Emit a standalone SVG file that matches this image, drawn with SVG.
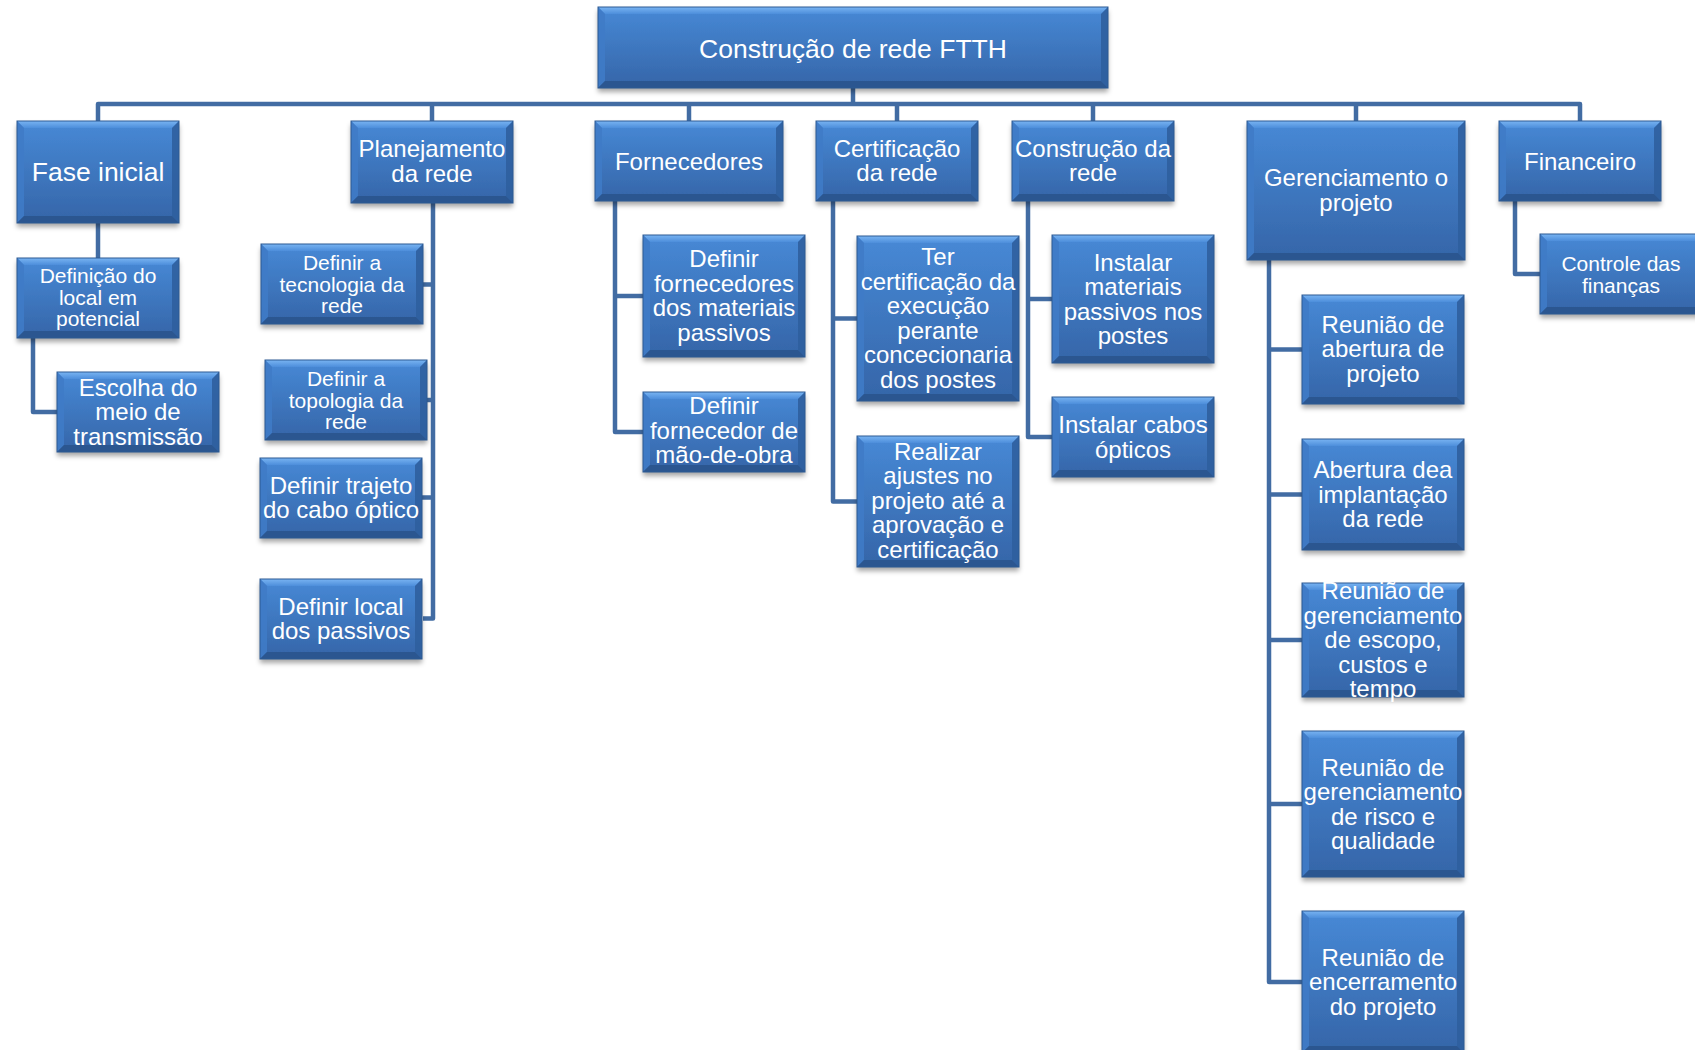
<svg xmlns="http://www.w3.org/2000/svg" xmlns:xlink="http://www.w3.org/1999/xlink" width="1695" height="1050" viewBox="0 0 1695 1050">
<style>
.body{fill:url(#gBody);filter:url(#sh)}
.bt{fill:url(#gTop)}
.bl{fill:#3f7bc6;opacity:.9}
.br{fill:#2f5f9e;opacity:.9}
.bb{fill:#2b5690}
.edge{fill:none;stroke:#2d5a93;stroke-width:1}
text{font-family:"Liberation Sans",Arial,sans-serif;fill:#fff;text-anchor:middle}
.t24{font-size:24px}
.t21{font-size:21px}
.conn path{fill:none;stroke:#426ca3;stroke-width:4.5;stroke-linejoin:round;stroke-linecap:butt}
</style>
<defs>
<linearGradient id="gBody" x1="0" y1="0" x2="0" y2="1">
<stop offset="0" stop-color="#4789d6"/>
<stop offset="1" stop-color="#3565a8"/>
</linearGradient>
<linearGradient id="gTop" x1="0" y1="0" x2="0" y2="1">
<stop offset="0" stop-color="#79b4f2"/>
<stop offset="1" stop-color="#4d8edb"/>
</linearGradient>
<filter id="sh" x="-10%" y="-10%" width="120%" height="130%">
<feDropShadow dx="0" dy="4" stdDeviation="2.5" flood-color="#000" flood-opacity="0.35"/>
</filter>
<g id="b80">
<rect class="body" x="0" y="0" width="162" height="80"/>
<polygon class="bt" points="0,0 162,0 155,7 7,7"/>
<polygon class="bl" points="0,0 7,7 7,73 0,80"/>
<polygon class="br" points="162,0 162,80 155,73 155,7"/>
<polygon class="bb" points="0,80 7,73 155,73 162,80"/>
<rect class="edge" x="0" y="0" width="162" height="80"/>
</g>
</defs>
<rect width="1695" height="1050" fill="#fff"/>

<g id="connectors" class="conn">
<path d="M853,88 V104"/>
<path d="M98,121 V104 H1580 V121"/>
<path d="M432,104 V121"/>
<path d="M689,104 V121"/>
<path d="M897,104 V121"/>
<path d="M1093,104 V121"/>
<path d="M1356,104 V121"/>
<path d="M98,223 V258"/>
<path d="M33,338 V412 H57"/>
<path d="M433,203 V618.5 H423"/>
<path d="M433,284.5 H423"/>
<path d="M433,400 H427"/>
<path d="M433,497.5 H422"/>
<path d="M615,201 V432 H643"/>
<path d="M615,296 H643"/>
<path d="M833,201 V501.5 H857"/>
<path d="M833,318.5 H857"/>
<path d="M1028,201 V437 H1052"/>
<path d="M1028,299 H1052"/>
<path d="M1269,260 V982 H1302"/>
<path d="M1269,349.5 H1302"/>
<path d="M1269,494.5 H1302"/>
<path d="M1269,640 H1302"/>
<path d="M1269,804 H1302"/>
<path d="M1515,201 V274 H1540"/>
</g>

<g id="root" transform="translate(598,7)">
<rect class="body" x="0" y="0" width="510" height="81"/>
<polygon class="bt" points="0,0 510,0 503,7 7,7"/>
<polygon class="bl" points="0,0 7,7 7,74 0,81"/>
<polygon class="br" points="510,0 510,81 503,74 503,7"/>
<polygon class="bb" points="0,81 7,74 503,74 510,81"/>
<rect class="edge" x="0" y="0" width="510" height="81"/>
<text x="255" y="51" style="font-size:26.5px">Construção de rede FTTH</text>
</g>

<g id="n1" transform="translate(17,121)">
<rect class="body" x="0" y="0" width="162" height="102"/>
<polygon class="bt" points="0,0 162,0 155,7 7,7"/>
<polygon class="bl" points="0,0 7,7 7,95 0,102"/>
<polygon class="br" points="162,0 162,102 155,95 155,7"/>
<polygon class="bb" points="0,102 7,95 155,95 162,102"/>
<rect class="edge" x="0" y="0" width="162" height="102"/>
<text x="81" y="60" style="font-size:26.5px">Fase inicial</text>
</g>

<g id="n1a" transform="translate(17,258)">
<use xlink:href="#b80"/>
<text class="t21"><tspan x="81" y="25">Definição do</tspan><tspan x="81" y="46.5">local em</tspan><tspan x="81" y="68">potencial</tspan></text>
</g>

<g id="n1b" transform="translate(57,372)">
<use xlink:href="#b80"/>
<text class="t24"><tspan x="81" y="23.5">Escolha do</tspan><tspan x="81" y="48">meio de</tspan><tspan x="81" y="72.5">transmissão</tspan></text>
</g>

<g id="n2" transform="translate(351,121)">
<rect class="body" x="0" y="0" width="162" height="82"/>
<polygon class="bt" points="0,0 162,0 155,7 7,7"/>
<polygon class="bl" points="0,0 7,7 7,75 0,82"/>
<polygon class="br" points="162,0 162,82 155,75 155,7"/>
<polygon class="bb" points="0,82 7,75 155,75 162,82"/>
<rect class="edge" x="0" y="0" width="162" height="82"/>
<text class="t24"><tspan x="81" y="36">Planejamento</tspan><tspan x="81" y="60.5">da rede</tspan></text>
</g>

<g id="n2a" transform="translate(261,244)">
<use xlink:href="#b80"/>
<text class="t21"><tspan x="81" y="26">Definir a</tspan><tspan x="81" y="47.7">tecnologia da</tspan><tspan x="81" y="69.3">rede</tspan></text>
</g>

<g id="n2b" transform="translate(265,360)">
<use xlink:href="#b80"/>
<text class="t21"><tspan x="81" y="25.8">Definir a</tspan><tspan x="81" y="47.5">topologia da</tspan><tspan x="81" y="69.2">rede</tspan></text>
</g>

<g id="n2c" transform="translate(260,458)">
<use xlink:href="#b80"/>
<text class="t24"><tspan x="81" y="35.6">Definir trajeto</tspan><tspan x="81" y="60">do cabo óptico</tspan></text>
</g>

<g id="n2d" transform="translate(260,579)">
<use xlink:href="#b80"/>
<text class="t24"><tspan x="81" y="35.6">Definir local</tspan><tspan x="81" y="60">dos passivos</tspan></text>
</g>

<g id="n3" transform="translate(595,121)">
<rect class="body" x="0" y="0" width="188" height="80"/>
<polygon class="bt" points="0,0 188,0 181,7 7,7"/>
<polygon class="bl" points="0,0 7,7 7,73 0,80"/>
<polygon class="br" points="188,0 188,80 181,73 181,7"/>
<polygon class="bb" points="0,80 7,73 181,73 188,80"/>
<rect class="edge" x="0" y="0" width="188" height="80"/>
<text class="t24" x="94" y="48.5">Fornecedores</text>
</g>

<g id="n3a" transform="translate(643,235)">
<rect class="body" x="0" y="0" width="162" height="122"/>
<polygon class="bt" points="0,0 162,0 155,7 7,7"/>
<polygon class="bl" points="0,0 7,7 7,115 0,122"/>
<polygon class="br" points="162,0 162,122 155,115 155,7"/>
<polygon class="bb" points="0,122 7,115 155,115 162,122"/>
<rect class="edge" x="0" y="0" width="162" height="122"/>
<text class="t24"><tspan x="81" y="32">Definir</tspan><tspan x="81" y="56.5">fornecedores</tspan><tspan x="81" y="81">dos materiais</tspan><tspan x="81" y="105.5">passivos</tspan></text>
</g>

<g id="n3b" transform="translate(643,392)">
<use xlink:href="#b80"/>
<text class="t24"><tspan x="81" y="22">Definir</tspan><tspan x="81" y="46.5">fornecedor de</tspan><tspan x="81" y="71">mão-de-obra</tspan></text>
</g>

<g id="n4" transform="translate(816,121)">
<use xlink:href="#b80"/>
<text class="t24"><tspan x="81" y="35.5">Certificação</tspan><tspan x="81" y="60">da rede</tspan></text>
</g>

<g id="n4a" transform="translate(857,236)">
<rect class="body" x="0" y="0" width="162" height="165"/>
<polygon class="bt" points="0,0 162,0 155,7 7,7"/>
<polygon class="bl" points="0,0 7,7 7,158 0,165"/>
<polygon class="br" points="162,0 162,165 155,158 155,7"/>
<polygon class="bb" points="0,165 7,158 155,158 162,165"/>
<rect class="edge" x="0" y="0" width="162" height="165"/>
<text class="t24"><tspan x="81" y="29">Ter</tspan><tspan x="81" y="53.5">certificação da</tspan><tspan x="81" y="78">execução</tspan><tspan x="81" y="102.5">perante</tspan><tspan x="81" y="127">concecionaria</tspan><tspan x="81" y="151.5">dos postes</tspan></text>
</g>

<g id="n4b" transform="translate(857,436)">
<rect class="body" x="0" y="0" width="162" height="131"/>
<polygon class="bt" points="0,0 162,0 155,7 7,7"/>
<polygon class="bl" points="0,0 7,7 7,124 0,131"/>
<polygon class="br" points="162,0 162,131 155,124 155,7"/>
<polygon class="bb" points="0,131 7,124 155,124 162,131"/>
<rect class="edge" x="0" y="0" width="162" height="131"/>
<text class="t24"><tspan x="81" y="23.5">Realizar</tspan><tspan x="81" y="48">ajustes no</tspan><tspan x="81" y="72.5">projeto até a</tspan><tspan x="81" y="97">aprovação e</tspan><tspan x="81" y="121.5">certificação</tspan></text>
</g>

<g id="n5" transform="translate(1012,121)">
<use xlink:href="#b80"/>
<text class="t24"><tspan x="81" y="35.5">Construção da</tspan><tspan x="81" y="60">rede</tspan></text>
</g>

<g id="n5a" transform="translate(1052,235)">
<rect class="body" x="0" y="0" width="162" height="128"/>
<polygon class="bt" points="0,0 162,0 155,7 7,7"/>
<polygon class="bl" points="0,0 7,7 7,121 0,128"/>
<polygon class="br" points="162,0 162,128 155,121 155,7"/>
<polygon class="bb" points="0,128 7,121 155,121 162,128"/>
<rect class="edge" x="0" y="0" width="162" height="128"/>
<text class="t24"><tspan x="81" y="35.5">Instalar</tspan><tspan x="81" y="60">materiais</tspan><tspan x="81" y="84.5">passivos nos</tspan><tspan x="81" y="109">postes</tspan></text>
</g>

<g id="n5b" transform="translate(1052,397)">
<use xlink:href="#b80"/>
<text class="t24"><tspan x="81" y="36">Instalar cabos</tspan><tspan x="81" y="60.5">ópticos</tspan></text>
</g>

<g id="n6" transform="translate(1247,121)">
<rect class="body" x="0" y="0" width="218" height="139"/>
<polygon class="bt" points="0,0 218,0 211,7 7,7"/>
<polygon class="bl" points="0,0 7,7 7,132 0,139"/>
<polygon class="br" points="218,0 218,139 211,132 211,7"/>
<polygon class="bb" points="0,139 7,132 211,132 218,139"/>
<rect class="edge" x="0" y="0" width="218" height="139"/>
<text class="t24"><tspan x="109" y="65">Gerenciamento o</tspan><tspan x="109" y="89.5">projeto</tspan></text>
</g>

<g id="n6a" transform="translate(1302,295)">
<rect class="body" x="0" y="0" width="162" height="109"/>
<polygon class="bt" points="0,0 162,0 155,7 7,7"/>
<polygon class="bl" points="0,0 7,7 7,102 0,109"/>
<polygon class="br" points="162,0 162,109 155,102 155,7"/>
<polygon class="bb" points="0,109 7,102 155,102 162,109"/>
<rect class="edge" x="0" y="0" width="162" height="109"/>
<text class="t24"><tspan x="81" y="37.5">Reunião de</tspan><tspan x="81" y="62">abertura de</tspan><tspan x="81" y="86.5">projeto</tspan></text>
</g>

<g id="n6b" transform="translate(1302,439)">
<rect class="body" x="0" y="0" width="162" height="111"/>
<polygon class="bt" points="0,0 162,0 155,7 7,7"/>
<polygon class="bl" points="0,0 7,7 7,104 0,111"/>
<polygon class="br" points="162,0 162,111 155,104 155,7"/>
<polygon class="bb" points="0,111 7,104 155,104 162,111"/>
<rect class="edge" x="0" y="0" width="162" height="111"/>
<text class="t24"><tspan x="81" y="39">Abertura dea</tspan><tspan x="81" y="63.5">implantação</tspan><tspan x="81" y="88">da rede</tspan></text>
</g>

<g id="n6c" transform="translate(1302,583)">
<rect class="body" x="0" y="0" width="162" height="114"/>
<polygon class="bt" points="0,0 162,0 155,7 7,7"/>
<polygon class="bl" points="0,0 7,7 7,107 0,114"/>
<polygon class="br" points="162,0 162,114 155,107 155,7"/>
<polygon class="bb" points="0,114 7,107 155,107 162,114"/>
<rect class="edge" x="0" y="0" width="162" height="114"/>
<text class="t24"><tspan x="81" y="16">Reunião de</tspan><tspan x="81" y="40.5">gerenciamento</tspan><tspan x="81" y="65">de escopo,</tspan><tspan x="81" y="89.5">custos e</tspan><tspan x="81" y="114">tempo</tspan></text>
</g>

<g id="n6d" transform="translate(1302,731)">
<rect class="body" x="0" y="0" width="162" height="146"/>
<polygon class="bt" points="0,0 162,0 155,7 7,7"/>
<polygon class="bl" points="0,0 7,7 7,139 0,146"/>
<polygon class="br" points="162,0 162,146 155,139 155,7"/>
<polygon class="bb" points="0,146 7,139 155,139 162,146"/>
<rect class="edge" x="0" y="0" width="162" height="146"/>
<text class="t24"><tspan x="81" y="44.5">Reunião de</tspan><tspan x="81" y="69">gerenciamento</tspan><tspan x="81" y="93.5">de risco e</tspan><tspan x="81" y="118">qualidade</tspan></text>
</g>

<g id="n6e" transform="translate(1302,911)">
<rect class="body" x="0" y="0" width="162" height="142"/>
<polygon class="bt" points="0,0 162,0 155,7 7,7"/>
<polygon class="bl" points="0,0 7,7 7,135 0,142"/>
<polygon class="br" points="162,0 162,142 155,135 155,7"/>
<polygon class="bb" points="0,142 7,135 155,135 162,142"/>
<rect class="edge" x="0" y="0" width="162" height="142"/>
<text class="t24"><tspan x="81" y="54.5">Reunião de</tspan><tspan x="81" y="79">encerramento</tspan><tspan x="81" y="103.5">do projeto</tspan></text>
</g>

<g id="n7" transform="translate(1499,121)">
<use xlink:href="#b80"/>
<text class="t24" x="81" y="48.5">Financeiro</text>
</g>

<g id="n7a" transform="translate(1540,234)">
<use xlink:href="#b80"/>
<text class="t21"><tspan x="81" y="37">Controle das</tspan><tspan x="81" y="58.7">finanças</tspan></text>
</g>
</svg>
